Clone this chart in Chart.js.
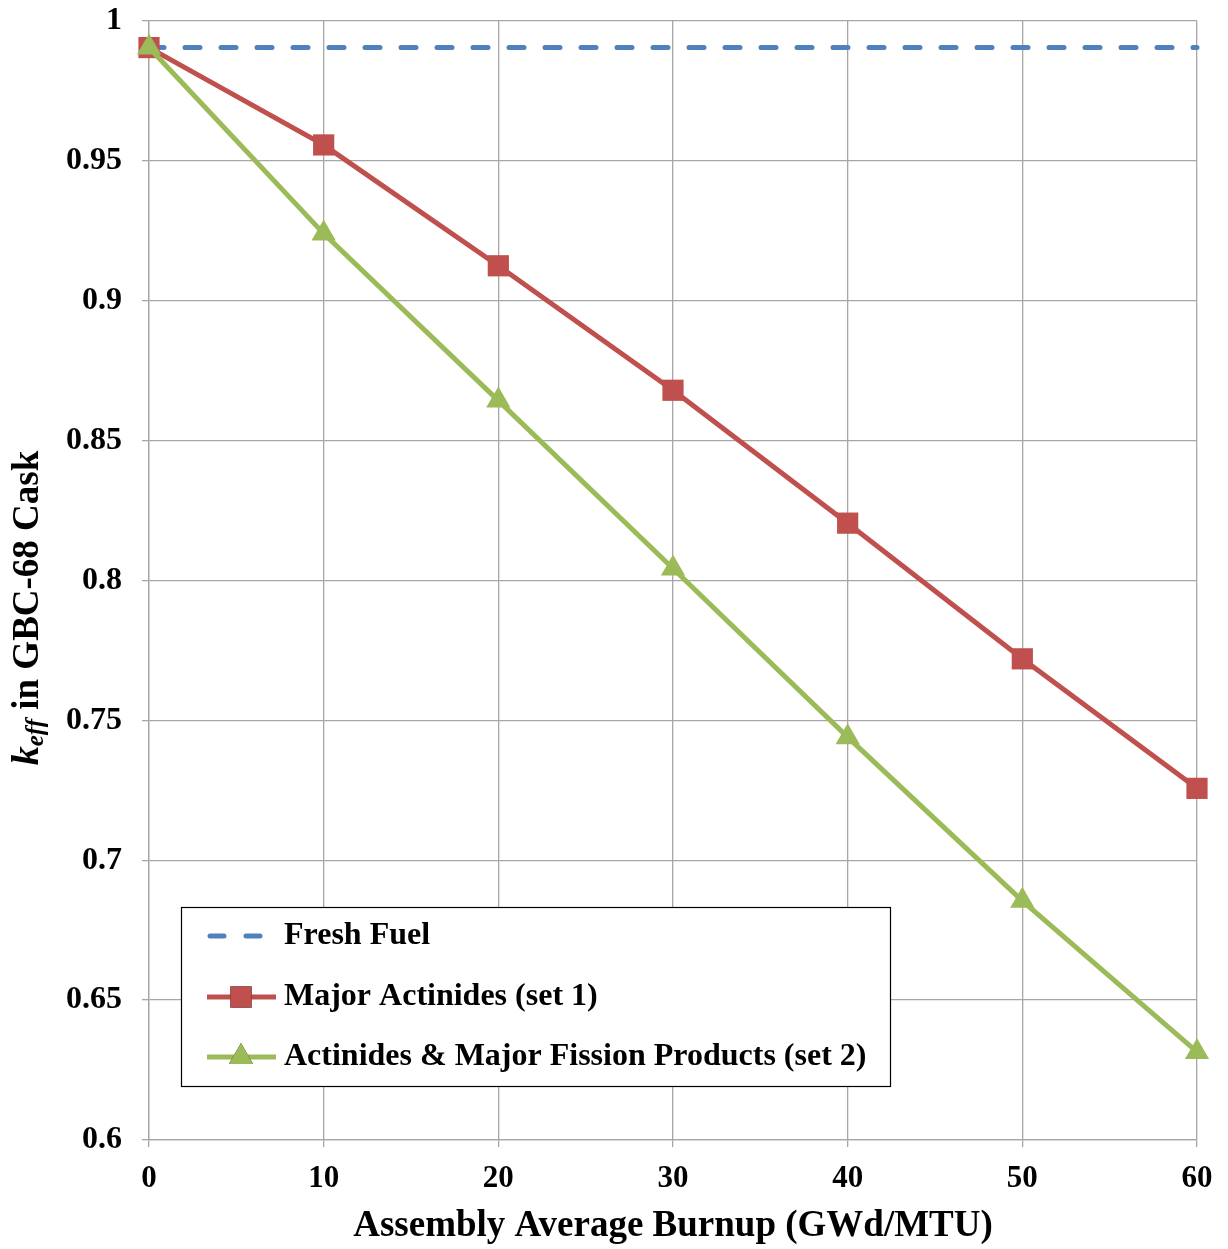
<!DOCTYPE html>
<html>
<head>
<meta charset="utf-8">
<script src="https://cdn.jsdelivr.net/npm/chart.js@4/dist/chart.umd.min.js"></script>
<style>
html,body{margin:0;padding:0;background:#fff;}
#wrap{width:1228px;height:1249px;position:relative;}
</style>
</head>
<body>
<div id="wrap"><canvas id="c" width="1228" height="1249"></canvas></div>
<script>
const burnup = [0, 10, 20, 30, 40, 50, 60];
const freshFuel = [0.9905, 0.9905, 0.9905, 0.9905, 0.9905, 0.9905, 0.9905];
const majorActinides = [0.9905, 0.9557, 0.9125, 0.868, 0.8205, 0.772, 0.7257];
const actinidesFP = [0.9905, 0.924, 0.8643, 0.8043, 0.744, 0.6855, 0.6315];
const seriesLabels = ['Fresh Fuel', 'Major Actinides (set 1)', 'Actinides & Major Fission Products (set 2)'];
const xTitle = 'Assembly Average Burnup (GWd/MTU)';

const FONT = '"Liberation Serif", "Times New Roman", serif';
const BLUE = '#4F81BD', RED = '#C0504D', GREEN = '#9BBB59';

const legendPlugin = {
  id: 'boxLegend',
  afterDraw(chart) {
    const ctx = chart.ctx;
    const x0 = 181, y0 = 907, w = 709, h = 179;
    ctx.save();
    ctx.fillStyle = '#fff';
    ctx.fillRect(x0, y0, w, h);
    ctx.strokeStyle = '#000';
    ctx.lineWidth = 1.2;
    ctx.strokeRect(x0 + 0.5, y0 + 0.5, w, h);
    const rows = [936, 997, 1057];
    chart.data.datasets.forEach((ds, i) => {
      const y = rows[i];
      const dashed = ds.borderDash && ds.borderDash.length;
      ctx.strokeStyle = ds.borderColor;
      ctx.lineWidth = ds.borderWidth;
      ctx.lineCap = dashed ? 'round' : 'butt';
      ctx.setLineDash(dashed ? [14, 22] : []);
      ctx.beginPath();
      if (dashed) { ctx.moveTo(210, y); ctx.lineTo(260, y); }
      else { ctx.moveTo(207, y); ctx.lineTo(276, y); }
      ctx.stroke();
      ctx.setLineDash([]);
      if (ds.pointRadius > 0) {
        Chart.helpers.drawPoint(ctx, {pointStyle: ds.pointStyle, radius: ds.pointRadius, rotation: 0, borderWidth: 0}, 241, y);
        ctx.fillStyle = ds.pointBackgroundColor;
        ctx.fill();
      }
      ctx.fillStyle = '#000';
      ctx.font = 'bold 32px ' + FONT;
      ctx.textBaseline = 'middle';
      ctx.textAlign = 'left';
      ctx.fillText(ds.label, 284, y);
    });
    ctx.restore();
  }
};

const yTitlePlugin = {
  id: 'yTitle',
  afterDraw(chart) {
    const ctx = chart.ctx;
    ctx.save();
    ctx.translate(28, 608);
    ctx.rotate(-Math.PI / 2);
    ctx.fillStyle = '#000';
    ctx.textBaseline = 'middle';
    const p1 = 'k', p2 = 'eff', p3 = ' in GBC-68 Cask';
    const f1 = 'italic bold 38px ' + FONT, f2 = 'italic bold 25px ' + FONT, f3 = 'bold 37px ' + FONT;
    ctx.font = f1; const w1 = ctx.measureText(p1).width;
    ctx.font = f2; const w2 = ctx.measureText(p2).width;
    ctx.font = f3; const w3 = ctx.measureText(p3).width;
    let x = -(w1 + w2 + w3) / 2;
    ctx.textAlign = 'left';
    ctx.font = f1; ctx.fillText(p1, x, 0); x += w1;
    ctx.font = f2; ctx.fillText(p2, x, 9); x += w2;
    ctx.font = f3; ctx.fillText(p3, x, 0);
    ctx.restore();
  }
};

new Chart(document.getElementById('c'), {
  type: 'line',
  data: {
    labels: burnup,
    datasets: [
      {label: seriesLabels[0], data: freshFuel, borderColor: BLUE, backgroundColor: BLUE, borderWidth: 5, borderDash: [15, 21], borderCapStyle: 'round', pointRadius: 0, pointBackgroundColor: BLUE, order: 3, clip: false},
      {label: seriesLabels[1], data: majorActinides, borderColor: RED, backgroundColor: RED, borderWidth: 5, pointStyle: 'rect', pointRadius: 15, pointBackgroundColor: RED, pointBorderWidth: 0, order: 2, clip: false},
      {label: seriesLabels[2], data: actinidesFP, borderColor: GREEN, backgroundColor: GREEN, borderWidth: 5, pointStyle: 'triangle', pointRadius: 14, pointBackgroundColor: GREEN, pointBorderWidth: 0, order: 1, clip: false}
    ]
  },
  options: {
    responsive: false,
    animation: false,
    devicePixelRatio: 1,
    layout: {padding: {left: 0, right: 31, top: 21, bottom: 0}},
    plugins: {legend: {display: false}, tooltip: {enabled: false}},
    scales: {
      x: {
        type: 'linear', min: 0, max: 60,
        ticks: {stepSize: 10, color: '#000', font: {family: FONT, size: 31, weight: 'bold'}, padding: 13, maxRotation: 0},
        grid: {color: '#A6A6A6', lineWidth: 1.3, tickLength: 7, drawTicks: true},
        border: {color: '#A6A6A6', width: 1.3},
        title: {display: true, text: xTitle, color: '#000', font: {family: FONT, size: 37, weight: 'bold'}, padding: {top: 0, bottom: 0}},
        afterFit(s) { s.height = 109; s.paddingLeft = 0; s.paddingRight = 0; }
      },
      y: {
        min: 0.6, max: 1,
        ticks: {stepSize: 0.05, color: '#000', font: {family: FONT, size: 32, weight: 'bold'}, padding: 20,
          callback: v => { const r = Math.round(v * 100) / 100; return String(r); }},
        grid: {color: '#A6A6A6', lineWidth: 1.3, tickLength: 7},
        border: {color: '#A6A6A6', width: 1.3},
        afterFit(s) { s.width = 149; s.paddingTop = 0; s.paddingBottom = 0; }
      }
    }
  },
  plugins: [legendPlugin, yTitlePlugin]
});
</script>
</body>
</html>
